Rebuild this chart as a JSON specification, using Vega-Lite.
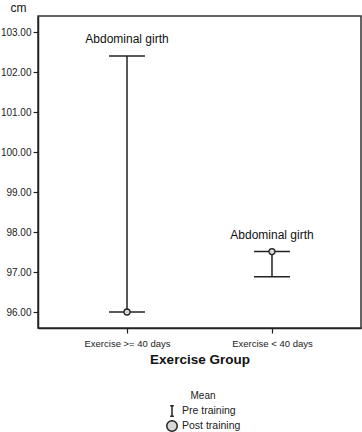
{
  "$schema": "https://vega.github.io/schema/vega-lite/v6.json",
  "width": 323,
  "height": 312,
  "autosize": "none",
  "padding": {"left": 38, "top": 16, "right": 1, "bottom": 104},
  "background": "white",
  "config": {
    "font": "Liberation Sans",
    "view": {"stroke": "#333", "strokeWidth": 1.5},
    "axis": {"grid": false, "domainColor": "#222", "domainWidth": 1.5, "tickColor": "#222", "tickWidth": 1.2, "tickSize": 5, "labelColor": "#222", "titleColor": "#111"}
  },
  "data": {
    "values": [
      {"group": "Exercise >= 40 days", "low": 96.0, "high": 102.4, "mean": 96.0, "label": "Abdominal girth", "series": "Post training"},
      {"group": "Exercise < 40 days", "low": 96.88, "high": 97.51, "mean": 97.51, "label": "Abdominal girth", "series": "Post training"}
    ]
  },
  "encoding": {
    "x": {
      "field": "group", "type": "nominal", "sort": null,
      "scale": {"type": "point", "padding": 0.614},
      "axis": {"title": "Exercise Group", "labelAngle": 0, "labelFontSize": 9.5, "labelPadding": 5, "titleFontSize": 13.5, "titleFontWeight": "bold", "titlePadding": 5}
    }
  },
  "layer": [
    {
      "mark": {"type": "rule", "color": "#222", "strokeWidth": 1.5},
      "encoding": {
        "y": {"field": "low", "type": "quantitative",
          "scale": {"domain": [95.6, 103.4], "nice": false, "zero": false},
          "axis": {"title": "cm", "values": [96, 97, 98, 99, 100, 101, 102, 103], "format": ".2f", "labelFontSize": 10, "labelPadding": 2, "titleAngle": 0, "titleFontSize": 12, "titleFontWeight": "normal", "titleX": -20, "titleY": -9, "titleAlign": "center", "titleBaseline": "middle"}},
        "y2": {"field": "high"}
      }
    },
    {
      "mark": {"type": "tick", "color": "#222", "size": 36, "thickness": 1.5, "opacity": 1},
      "encoding": {"y": {"field": "low", "type": "quantitative"}}
    },
    {
      "mark": {"type": "tick", "color": "#222", "size": 36, "thickness": 1.5, "opacity": 1},
      "encoding": {"y": {"field": "high", "type": "quantitative"}}
    },
    {
      "mark": {"type": "point", "filled": true, "fill": "#d9d9d9", "stroke": "#222", "strokeWidth": 1.3, "opacity": 1, "size": 36},
      "encoding": {
        "y": {"field": "mean", "type": "quantitative"},
        "shape": {
          "field": "series", "type": "nominal",
          "scale": {"domain": ["Pre training", "Post training"], "range": ["M-0.35,-1H0.35M0,-1V1M-0.35,1H0.35", "circle"]},
          "legend": {"title": "Mean", "orient": "none", "legendX": 128, "legendY": 375, "titleAnchor": "middle", "titleFontSize": 10, "titleFontWeight": "normal", "titleColor": "#222", "labelFontSize": 10.5, "labelColor": "#222", "symbolSize": 110, "rowPadding": -5, "titlePadding": 4,
            "encode": {"symbols": {"update": {"stroke": {"value": "#222"}, "strokeWidth": {"value": 1.2}, "fill": {"value": "#d9d9d9"}, "opacity": {"value": 1}}}}}
        }
      }
    },
    {
      "mark": {"type": "text", "fontSize": 12, "color": "#111", "dy": -17, "baseline": "middle", "align": "center"},
      "encoding": {"y": {"field": "high", "type": "quantitative"}, "text": {"field": "label"}}
    }
  ]
}
